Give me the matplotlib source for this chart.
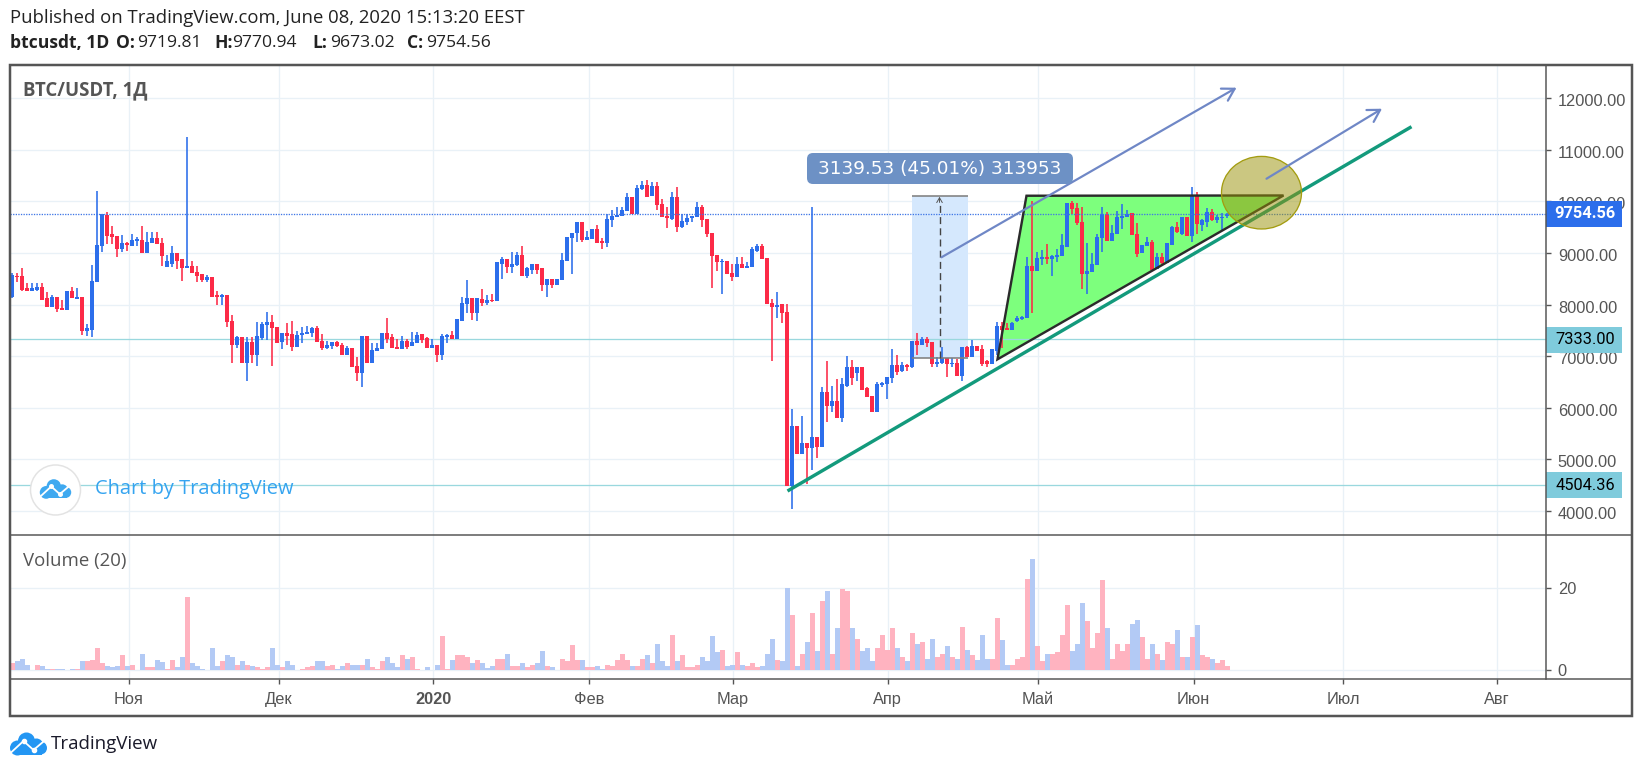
import numpy as np
from matplotlib import pyplot as plt
from matplotlib.patches import Polygon, Ellipse, Rectangle, FancyBboxPatch, Circle
from matplotlib.transforms import ScaledTranslation

# day index 0 = 1 Nov 2019, one candle per day up to 8 Jun 2020
first_day = -23

opens = [
    8153, 8554, 8554, 8315, 8269, 8282, 8347, 8121, 7946, 8140,
    7940, 7894, 8263, 8114, 8140, 7494, 7507, 8444, 9142, 9737,
    9362, 9336, 9084, 9201, 9142, 9239, 9252, 8994, 9201, 9285,
    9201, 8735, 8787, 8994, 8877, 8703, 8755, 8638, 8586, 8476,
    8528, 8179, 8140, 8179, 7681, 7216, 7364, 6873, 7274, 7015,
    7358, 7604, 7655, 7565, 7280, 7442, 7429, 7183, 7403, 7429,
    7442, 7539, 7300, 7157, 7196, 7267, 7216, 7015, 7151, 6808,
    6666, 7390, 6873, 7106, 7132, 7442, 7364, 7183, 7132, 7300,
    7196, 7248, 7421, 7344, 7163, 7214, 7020, 7363, 7408, 7331,
    7686, 8010, 8120, 7829, 8107, 8036, 8087, 8061, 8786, 8876,
    8734, 8766, 8960, 8553, 8669, 8786, 8702, 8378, 8488, 8378,
    8475, 8850, 9283, 9381, 9594, 9251, 9264, 9458, 9232, 9193,
    9639, 9691, 9717, 9814, 10092, 9756, 10241, 10318, 10111, 10305,
    9943, 9717, 9659, 10092, 9510, 9594, 9672, 9691, 9898, 9659,
    9393, 8960, 8824, 8844, 8618, 8527, 8786, 8702, 8727, 9044,
    9135, 8896, 8023, 7958, 8003, 7848, 4486, 5643, 5100, 5320,
    5210, 5436, 5242, 6309, 6031, 6128, 5792, 6426, 6794, 6678,
    6781, 6374, 6225, 5908, 6438, 6458, 6581, 6826, 6710, 6826,
    6781, 7298, 7221, 7331, 7273, 6846, 6872, 6969, 6839, 6872,
    6613, 7182, 6988, 7201, 7130, 6904, 6839, 7098, 7589, 7538,
    7505, 7680, 7712, 7745, 8753, 8650, 8876, 8928, 8876, 8928,
    8947, 9122, 9975, 9865, 9594, 8592, 8637, 8766, 9283, 9756,
    9232, 9368, 9672, 9691, 9781, 9368, 8993, 9135, 9219, 8682,
    8928, 8799, 9154, 9510, 9368, 9691, 9335, 10111, 9542, 9594,
    9801, 9639, 9672, 9719.81]

highs = [
    8606, 8606, 8703, 8412, 8412, 8412, 8412, 8237, 8186, 8140,
    8088, 8263, 8347, 8315, 8140, 7623, 8767, 10209, 9757, 9802,
    9524, 9336, 9349, 9220, 9369, 9304, 9524, 9401, 9401, 9401,
    9285, 8961, 9136, 8994, 8877, 11257, 8845, 8748, 8586, 8573,
    8528, 8263, 8198, 8179, 7797, 7390, 7364, 7377, 7377, 7655,
    7655, 7849, 7797, 7565, 7442, 7636, 7681, 7494, 7571, 7591,
    7571, 7591, 7422, 7300, 7267, 7293, 7248, 7196, 7151, 6989,
    7390, 7390, 7261, 7248, 7442, 7733, 7422, 7325, 7390, 7325,
    7474, 7474, 7421, 7376, 7324, 7214, 7421, 7428, 7486, 7712,
    8152, 8475, 8120, 8120, 8301, 8184, 8204, 8818, 8915, 8876,
    9012, 9012, 9135, 8734, 8786, 8786, 8702, 8488, 8488, 8488,
    8993, 9303, 9393, 9594, 9594, 9432, 9458, 9542, 9283, 9756,
    9833, 9885, 9885, 10156, 10092, 10318, 10396, 10415, 10370, 10370,
    10040, 9898, 10189, 10273, 9756, 9756, 9717, 9982, 9930, 9659,
    9393, 8960, 8876, 8844, 8786, 8928, 8928, 8831, 9122, 9174,
    9174, 8896, 8107, 8236, 8003, 8003, 5966, 5643, 5843, 5320,
    9898, 5436, 6393, 6904, 6426, 6548, 6568, 7007, 6923, 6794,
    6781, 6393, 6225, 6503, 6503, 6600, 7130, 7020, 6891, 6846,
    7298, 7454, 7376, 7376, 7273, 6988, 7182, 6969, 6956, 6936,
    7182, 7195, 7311, 7201, 7214, 6923, 7130, 7667, 7667, 7648,
    7667, 7783, 7777, 8928, 10008, 9025, 9057, 9167, 8960, 9077,
    9368, 9975, 10008, 9962, 9885, 9187, 8993, 9361, 9898, 9801,
    9542, 9820, 9950, 9833, 9781, 9575, 9154, 9303, 9251, 8993,
    8993, 9187, 9523, 9607, 9691, 9691, 10273, 10176, 9652, 9865,
    9846, 9736, 9781, 9770.94]

lows = [
    8121, 8444, 8269, 8269, 8269, 8269, 8088, 7946, 7946, 7862,
    7894, 7894, 8121, 8114, 7410, 7390, 7364, 8444, 9026, 9168,
    9168, 8929, 9026, 9045, 9142, 9142, 8994, 8994, 9201, 9168,
    8755, 8735, 8735, 8683, 8464, 8703, 8619, 8444, 8444, 8444,
    8153, 7991, 7991, 7571, 6873, 7164, 6873, 6524, 6873, 6815,
    7313, 7313, 6815, 7248, 7132, 7216, 7106, 7183, 7248, 7429,
    7377, 7280, 7119, 7132, 7132, 7183, 7015, 7015, 6789, 6524,
    6407, 6873, 6873, 7106, 7132, 7248, 7157, 7132, 7132, 7132,
    7196, 7248, 7247, 7163, 7163, 6891, 6923, 7247, 7331, 7331,
    7686, 7829, 7699, 7680, 7977, 7990, 8055, 8061, 8495, 8618,
    8618, 8753, 8559, 8521, 8585, 8585, 8268, 8152, 8327, 8378,
    8475, 8850, 8585, 9206, 9206, 9251, 9264, 9199, 9077, 9109,
    9510, 9691, 9717, 9814, 9756, 9756, 10221, 10092, 10111, 9833,
    9691, 9490, 9639, 9400, 9490, 9542, 9607, 9691, 9510, 9316,
    8327, 8656, 8210, 8585, 8462, 8527, 8702, 8702, 8727, 9012,
    8883, 8003, 6904, 7745, 7635, 4486, 4027, 5100, 5100, 4512,
    4790, 5016, 5242, 5727, 5921, 5792, 5727, 6406, 6438, 6523,
    6341, 6212, 5908, 5908, 6406, 6167, 6484, 6632, 6697, 6717,
    6762, 7020, 7221, 7169, 6781, 6794, 6846, 6600, 6781, 6613,
    6523, 6975, 6988, 7104, 6807, 6781, 6839, 7020, 7150, 7505,
    7505, 7667, 7699, 7745, 7829, 8650, 8766, 8786, 8559, 8831,
    8947, 9122, 9756, 9542, 8294, 8204, 8637, 8766, 9025, 9232,
    9232, 9368, 9458, 9691, 9348, 8915, 8993, 9135, 8669, 8682,
    8766, 8799, 9154, 9381, 9348, 9335, 9219, 9368, 9432, 9510,
    9620, 9575, 9432, 9673.02]

closes = [
    8573, 8528, 8282, 8269, 8315, 8347, 8088, 7946, 8140, 7907,
    7894, 8263, 8121, 8140, 7494, 7539, 8464, 9155, 9757, 9336,
    9317, 9084, 9188, 9149, 9252, 9265, 8994, 9220, 9285, 9168,
    8942, 8845, 8994, 8851, 8703, 8755, 8619, 8554, 8476, 8528,
    8153, 8140, 8179, 7655, 7216, 7364, 6873, 7280, 7015, 7390,
    7617, 7655, 7539, 7261, 7442, 7397, 7183, 7410, 7442, 7474,
    7539, 7280, 7157, 7216, 7267, 7203, 7015, 7151, 6789, 6666,
    7390, 6873, 7119, 7151, 7442, 7332, 7157, 7132, 7300, 7183,
    7267, 7410, 7311, 7163, 7214, 7020, 7389, 7408, 7331, 7712,
    8023, 8120, 7829, 8120, 8029, 8087, 8061, 8818, 8876, 8734,
    8786, 8960, 8559, 8702, 8786, 8669, 8378, 8488, 8378, 8488,
    8863, 9303, 9393, 9594, 9251, 9303, 9458, 9199, 9193, 9659,
    9717, 9736, 9833, 10092, 9756, 10266, 10318, 10092, 10305, 9930,
    9691, 9684, 10092, 9510, 9620, 9684, 9717, 9885, 9639, 9368,
    8941, 8824, 8850, 8585, 8527, 8786, 8702, 8747, 9077, 9135,
    8883, 8003, 7958, 7990, 7842, 4486, 5643, 5100, 5320, 5210,
    5436, 5242, 6309, 6031, 6128, 5792, 6451, 6794, 6581, 6781,
    6341, 6212, 5908, 6451, 6471, 6600, 6826, 6697, 6826, 6781,
    7298, 7214, 7331, 7247, 6846, 6891, 6969, 6846, 6872, 6613,
    7182, 6975, 7201, 7104, 6839, 6839, 7130, 7589, 7505, 7505,
    7635, 7732, 7764, 8753, 8650, 8896, 8928, 8876, 8947, 8960,
    9154, 9975, 9846, 9575, 8592, 8656, 8779, 9303, 9756, 9232,
    9393, 9691, 9717, 9756, 9348, 8980, 9154, 9219, 8669, 8928,
    8811, 9187, 9510, 9400, 9691, 9335, 10111, 9562, 9639, 9801,
    9639, 9691, 9704, 9754.56]

volumes = [
    1.6, 2.2, 2.7, 1.2, 0, 1.2, 0.8, 0.2, 0.1, 0.1,
    0.1, 0, 0.1, 0.1, 2, 2, 2.3, 5.3, 1.6, 0.8,
    0.6, 0.8, 3.5, 0.8, 1.2, 0, 3.8, 0.5, 0.5, 2.3,
    1.9, 0.2, 2.3, 0.5, 3, 17.9, 1.6, 0.8, 0.2, 0,
    5.3, 0.8, 2, 3.5, 3, 1.2, 2, 1.2, 0.8, 0.5,
    0.2, 0.5, 5.3, 1.2, 0.5, 2, 1.2, 0, 0.1, 0.5,
    0.8, 2, 2, 0.8, 1.2, 0.2, 0.8, 1.6, 1.2, 1.2,
    1.2, 2.7, 0.5, 0.2, 2, 3, 1.6, 0.5, 3.5, 2.7,
    3, 0.2, 0, 0.5, 0, 1.2, 8.2, 0.1, 2.3, 3.5,
    3.5, 3, 1.6, 2.3, 1.6, 0.4, 0.8, 2.7, 2.7, 3.8,
    0.8, 0.8, 1.6, 0.5, 1.2, 1.6, 4.5, 0.8, 0.5, 0,
    2.7, 2, 6, 2.3, 2.3, 0.5, 0.5, 0.8, 0.1, 1.2,
    0.8, 2.3, 3.8, 2.3, 0.8, 0.8, 2.7, 3.5, 1.6, 6.4,
    2, 0.8, 8.6, 2, 3.5, 0.5, 0.5, 1.2, 3, 2,
    8.2, 4.2, 4.9, 0.8, 1.2, 4.2, 1.2, 0.8, 1.6, 0.5,
    0.8, 3.8, 7.5, 2.3, 2, 20, 13.4, 0.8, 3.8, 6.7,
    13.8, 4.5, 16.8, 19.3, 3.8, 10.1, 19.8, 19.3, 10.1, 7.5,
    4.5, 5.3, 2, 5.3, 8.6, 4.9, 10.1, 5.3, 3, 2,
    9, 6.4, 6.7, 2.7, 7.5, 3, 3.8, 5.7, 3, 2.7,
    10.5, 4.9, 3.5, 2.3, 8.6, 2.7, 2.7, 12.7, 7.2, 1.2,
    1.2, 2.7, 3, 22.3, 27.2, 5.7, 2, 3.8, 3.8, 4.2,
    8.6, 16, 4.5, 6.4, 16.4, 11.9, 5.3, 9, 22, 10.1,
    2.7, 6.4, 4.5, 6.4, 11.2, 12.3, 7.9, 2.7, 6.4, 3.8,
    2.3, 6.7, 6.4, 9.7, 3, 3, 7.9, 10.9, 3.5, 3,
    2.7, 1.6, 2.3, 0.8]

# r = pink bar, b = light blue bar
volume_sides = ("rbbbbrbbrb" "bbbrbrrrrb" "bbrbrrbrrb" "brrbbrbbbb" "bbrbbrbrbr"
                "rrbbrbbbrr" "rbbrrbbrbb" "rbrrrbbbrb" "rrbbbbrrbr" "rrbrbbbrrb"
                "rrbrrbbrbb" "rrrrbrrbbr" "rrrrbrrbrb" "bbrbrrrrbb" "bbrbbrbrrr"
                "bbbrbbrbrb" "rbrbrbrrbr" "bbbrrrrbrb" "rbrbbrrbrb" "rbrbbbrrbb"
                "rrrrbrrbrr" "rrbbbrrrrb" "rrrrbbrrbr" "brrbrbrbrr" "brrr")

month_labels = ["Ноя", "Дек", "2020", "Фев", "Мар", "Апр", "Май", "Июн", "Июл", "Авг"]
month_days = [0.3, 30.3, 61.2, 92.4, 121.2, 152.1, 182.2, 213.3, 243.2, 274.0]
price_ticks = [4000, 5000, 6000, 7000, 8000, 9000, 10000, 11000, 12000]
volume_ticks = [0, 20]

last_price = 9754.56
level_high = 7333.00
level_low = 4504.36

trend_days = [132.1, 256.9]
trend_prices = [4382, 11449]
triangle_days = [174.1, 179.9, 231.3]
triangle_prices = [6937, 10110, 10115]
range_days = [156.9, 168.1]
range_prices = [6969, 10110]
arrow1_days = [162.9, 221.9]
arrow1_prices = [8916, 12206]
arrow2_days = [227.9, 251.0]
arrow2_prices = [10440, 11798]
ellipse_day = 226.9
ellipse_price = 10169

W, H = 1642, 772
BLUE = '#2c6eeb'
RED = '#fc2a47'
GRID = '#e9f1f7'
FRAME = '#555555'
TEAL = '#9ad8de'
px = 0.72

days = np.arange(first_day, first_day + len(closes))
opens = np.array(opens)
closes = np.array(closes)
up = closes >= opens
candle_colors = np.where(up, BLUE, RED)


def axes_px(x0, y0, x1, y1):
    return fig.add_axes([x0 / W, 1 - y1 / H, (x1 - x0) / W, (y1 - y0) / H])


fig = plt.figure(figsize=(W / 100, H / 100), dpi=100, facecolor='white')
label_shift = ScaledTranslation(0, -2 / 100, fig.dpi_scale_trans)

# Price pane
ax = axes_px(10, 65, 1546, 535)
ax.set_xlim(-23.4, 283.8)
ax.set_ylim(3529, 12646)
ax.set_xticks(month_days)
ax.set_xticklabels([])
ax.set_yticks(price_ticks)
ax.set_yticklabels([f"{p:.2f}" for p in price_ticks], family='Liberation Sans', fontsize=11.8, color='#555555')
ax.yaxis.tick_right()
ax.tick_params(axis='x', length=0)
ax.tick_params(axis='y', length=3.5, width=1, color=FRAME, pad=5)
for lab in ax.get_yticklabels():
    lab.set_transform(lab.get_transform() + label_shift)
ax.grid(True, color=GRID, linewidth=1.3 * px)
ax.set_axisbelow(True)
for spine in ax.spines.values():
    spine.set_visible(False)

ax.add_patch(Polygon(list(zip(triangle_days, triangle_prices)), closed=True, facecolor='#7dff7d', edgecolor='none', zorder=1.5))
ax.add_patch(Rectangle((range_days[0], range_prices[0]), range_days[1] - range_days[0], range_prices[1] - range_prices[0],
                       facecolor='#d5e8fd', edgecolor='none', zorder=1.5))
ax.axhline(level_high, color=TEAL, linewidth=1.3 * px, zorder=2)
ax.axhline(level_low, color=TEAL, linewidth=1.3 * px, zorder=2)

ax.vlines(days, lows, highs, colors=candle_colors, linewidth=1.6 * px, zorder=3)
ax.bar(days, np.abs(closes - opens), bottom=np.minimum(opens, closes), width=0.86, color=candle_colors, linewidth=0, zorder=3.1)

ax.axhline(last_price, color='#3f76e6', linewidth=1.3 * px, linestyle=(0, (1, 1)), zorder=3.2)

# Drawings on top of the candles
ax.add_patch(Polygon(list(zip(triangle_days, triangle_prices)), closed=True, facecolor='none', edgecolor='#2b2b2b',
                     linewidth=2.4 * px, zorder=4))
ax.plot(trend_days, trend_prices, color='#139a7c', linewidth=3.4 * px, solid_capstyle='butt', zorder=4.1)
ax.hlines(range_prices, range_days[0], range_days[1], color='#808080', linewidth=1.6 * px, zorder=4)
range_mid = sum(range_days) / 2
ax.plot([range_mid, range_mid], [range_prices[0], range_prices[1] - 130], color='#444444', linewidth=1.4 * px,
        linestyle=(0, (5, 3)), zorder=4)
ax.annotate("", xy=(range_mid, range_prices[1] - 20), xytext=(range_mid, range_prices[1] - 130),
            arrowprops=dict(arrowstyle='->,head_length=0.35,head_width=0.2', color='#555555', lw=0.7, shrinkA=0, shrinkB=0), zorder=4)
for xs, ys in [(arrow1_days, arrow1_prices), (arrow2_days, arrow2_prices)]:
    ax.annotate("", xy=(xs[1], ys[1]), xytext=(xs[0], ys[0]),
                arrowprops=dict(arrowstyle='->,head_length=0.85,head_width=0.5', color='#6f87c6', lw=2.2 * px, shrinkA=0, shrinkB=0),
                zorder=5)
ax.add_patch(Ellipse((ellipse_day, ellipse_price), 16, 1408, facecolor=(0.6, 0.57, 0.02, 0.5), edgecolor='#a39c10',
                     linewidth=1.3 * px, zorder=4.5))

# Volume pane
ax_vol = axes_px(10, 535, 1546, 679)
ax_vol.set_xlim(-23.4, 283.8)
ax_vol.set_ylim(-2.34, 33.13)
vol_colors = ['#b3caf5' if s == 'b' else '#ffb3c0' for s in volume_sides]
ax_vol.bar(days, volumes, width=1.0, color=vol_colors, linewidth=0, zorder=3)
ax_vol.set_xticks(month_days)
ax_vol.set_xticklabels(month_labels, family='Liberation Sans', fontsize=11.8, color='#555555')
for lab in ax_vol.get_xticklabels():
    if lab.get_text() == "2020":
        lab.set_fontweight('bold')
ax_vol.set_yticks(volume_ticks)
ax_vol.set_yticklabels([str(v) for v in volume_ticks], family='Liberation Sans', fontsize=11.8, color='#555555')
ax_vol.yaxis.tick_right()
ax_vol.tick_params(axis='x', length=3.5, width=1, color=FRAME, pad=6)
ax_vol.tick_params(axis='y', length=3.5, width=1, color=FRAME, pad=5)
ax_vol.grid(True, color=GRID, linewidth=1.3 * px)
ax_vol.set_axisbelow(True)
for spine in ax_vol.spines.values():
    spine.set_visible(False)

# Overlay in pixel coordinates for frame, labels and logos
ov = fig.add_axes([0, 0, 1, 1], zorder=10)
ov.set_xlim(0, W)
ov.set_ylim(H, 0)
ov.axis('off')
ov.patch.set_alpha(0)

ov.add_patch(Rectangle((10, 65), 1622, 651, facecolor='none', edgecolor=FRAME, linewidth=2.5 * px))
ov.plot([1546, 1546], [65, 679], color=FRAME, linewidth=1.5 * px)
ov.plot([10, 1632], [535, 535], color=FRAME, linewidth=1.5 * px)
ov.plot([10, 1632], [679, 679], color=FRAME, linewidth=1.5 * px)

for y0, y1, color, txt, tcolor in [(201, 226.5, BLUE, f"{last_price:.2f}", 'white'),
                                   (327, 352.5, '#7fcbdc', f"{level_high:.2f}", 'black'),
                                   (472, 498, '#7fcbdc', f"{level_low:.2f}", 'black')]:
    ov.add_patch(Rectangle((1546, y0), 76, y1 - y0, facecolor=color, edgecolor='none'))
    ov.text(1585, (y0 + y1) / 2, txt, ha='center', va='center', color=tcolor, fontsize=11.8, family='Roboto',
            fontweight='bold' if tcolor == 'white' else 'normal')

ov.add_patch(FancyBboxPatch((811, 157), 258, 23, boxstyle='round,pad=4,rounding_size=6', facecolor='#6d91c5', edgecolor='none'))
ov.text(940, 169, "3139.53 (45.01%) 313953", ha='center', va='center', color='white', fontsize=13.3, family='DejaVu Sans')

ov.text(23, 90, "BTC/USDT, 1Д", ha='left', va='center', color='#555555', fontsize=13.4, family='Open Sans', fontweight='bold')
ov.text(23, 561, "Volume (20)", ha='left', va='center', color='#555555', fontsize=13.4, family='Open Sans')

# Header lines
ov.text(10, 18, "Published on TradingView.com, June 08, 2020 15:13:20 EEST", ha='left', va='center', color='#222222',
        fontsize=13.3, family='Open Sans')
for x, txt, weight in [(10, "btcusdt, 1D", 'bold'), (116, "O:", 'bold'), (137.5, "9719.81", 'normal'),
                       (214, "H:", 'bold'), (232, "9770.94", 'normal'), (312.5, "L:", 'bold'), (330, "9673.02", 'normal'),
                       (407, "C:", 'bold'), (425.7, "9754.56", 'normal')]:
    ov.text(x, 43, txt, ha='left', va='center', color='#222222', fontsize=12.6, family='Open Sans', fontweight=weight)


def draw_logo(cx, cy, scale, color):
    for dx, dy, r in [(-11, 4, 7.5), (-2, -3, 8.5), (8, 1, 6.5), (12, 4, 6.5)]:
        ov.add_patch(Circle((cx + dx * scale, cy + dy * scale), r * scale, facecolor=color, edgecolor='none'))
    ov.add_patch(Rectangle((cx - 12 * scale, cy + 2 * scale), 25 * scale, 9 * scale, facecolor=color, edgecolor='none'))
    ov.plot([cx - 18 * scale, cx - 5 * scale, cx + 5 * scale, cx + 18 * scale],
            [cy + 9 * scale, cy - 3 * scale, cy + 6 * scale, cy - 5 * scale], color='white', linewidth=1.8 * px)
    ov.plot([cx - 5 * scale, cx + 5 * scale], [cy - 3 * scale, cy + 6 * scale], 'o', color='white', markersize=3 * scale)


ov.add_patch(Circle((55.5, 490), 25, facecolor='white', edgecolor='#e3e3e3', linewidth=1.5 * px))
draw_logo(55.5, 489, 0.85, '#3fa9f0')
ov.text(95, 489, "Chart by TradingView", ha='left', va='center', color='#35a4f0', fontsize=14.4, family='Open Sans')

draw_logo(28.5, 744, 1.0, '#2396f3')
ov.text(51, 744, "TradingView", ha='left', va='center', color='#1a1a2a', fontsize=13.5, family='Open Sans')

fig.savefig("out.png", dpi=100)
